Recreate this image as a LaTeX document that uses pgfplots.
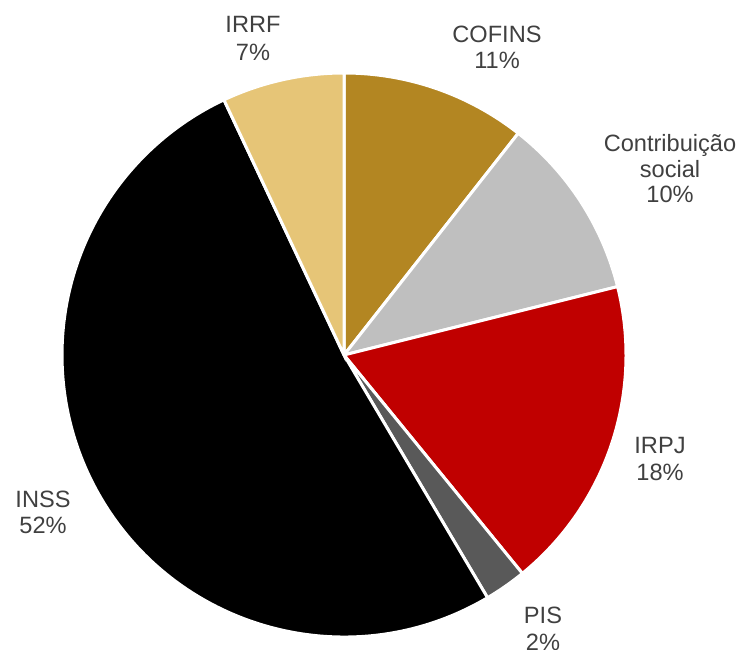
\documentclass[border=0pt]{standalone}
\usepackage{fontspec}
\setmainfont{Liberation Sans}
\usepackage{pgfplots}
\pgfplotsset{compat=1.18}
\definecolor{cofins}{RGB}{179,134,34}
\definecolor{contrib}{RGB}{191,191,191}
\definecolor{irpj}{RGB}{192,0,0}
\definecolor{pis}{RGB}{89,89,89}
\definecolor{inss}{RGB}{0,0,0}
\definecolor{irrf}{RGB}{230,197,119}
\definecolor{lbl}{RGB}{64,64,64}

% shares in percent, clockwise from 12 o'clock
\def\shares{10.6/cofins, 10.5/contrib, 18.0/irpj, 2.4/pis, 51.5/inss, 7.0/irrf}
\def\cx{344}\def\cy{294}

\begin{document}
\begin{tikzpicture}
\begin{axis}[
    hide axis,
    x=0.5pt, y=0.5pt,
    xmin=0, xmax=739, ymin=0, ymax=649,
    enlargelimits=false,
    clip=false,
]
\xdef\ang{90}
\foreach \v/\c in \shares {
    \pgfmathsetmacro\a{\ang - 3.6*\v}
    \edef\slice{\noexpand\fill[\c, draw=white, line width=1.5pt]
        (axis cs:\cx,\cy) -- ++(\ang:141pt)
        arc[start angle=\ang, end angle=\a, radius=141pt] -- cycle;}
    \slice
    \xdef\ang{\a}
}

\tikzset{every node/.style={anchor=base, text=lbl,
    font=\fontsize{11.8}{14}\selectfont, inner sep=0pt}}
\node at (axis cs:253,616) {IRRF};
\node at (axis cs:253,588) {7\%};
\node at (axis cs:497,606) {COFINS};
\node at (axis cs:497,580) {11\%};
\node at (axis cs:670,497) {Contribuição};
\node at (axis cs:670,471) {social};
\node at (axis cs:670,446) {10\%};
\node at (axis cs:660,196) {IRPJ};
\node at (axis cs:660,169) {18\%};
\node at (axis cs:43,142) {INSS};
\node at (axis cs:43,116) {52\%};
\node at (axis cs:543,26) {PIS};
\node at (axis cs:543,-1) {2\%};
\end{axis}
\pgfresetboundingbox
\useasboundingbox (current axis.south west) rectangle (current axis.north east);
\end{tikzpicture}
\end{document}
